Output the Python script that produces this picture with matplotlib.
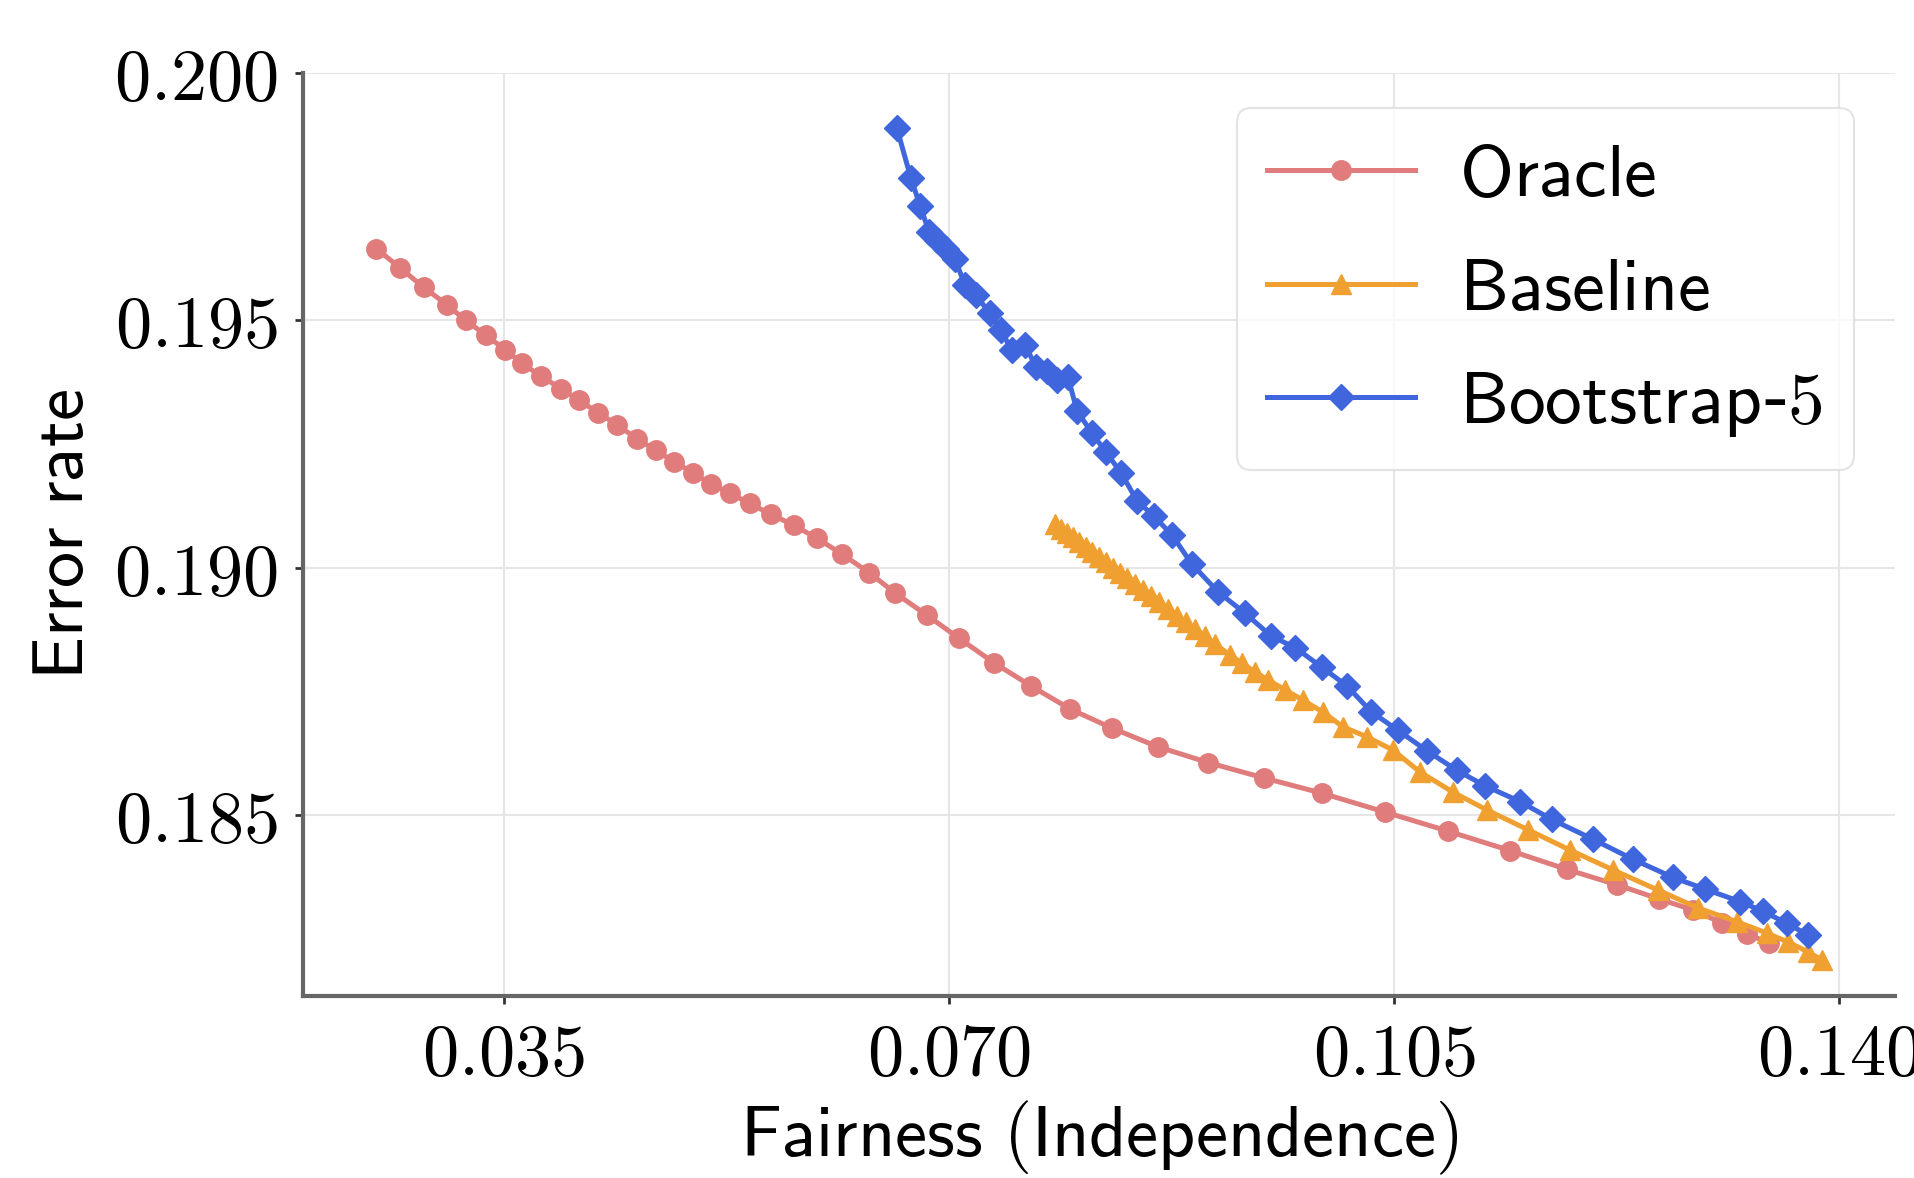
import numpy as np
import matplotlib
matplotlib.use("Agg")
import matplotlib.pyplot as plt
from matplotlib.ticker import FixedLocator, FuncFormatter

plt.rcParams['mathtext.fontset'] = 'cm'
plt.rcParams['font.family'] = ['DejaVu Sans']

# Oracle (red circles)
oracle_x = [0.02497, 0.02684, 0.02868, 0.03049, 0.03199, 0.03358, 0.03509, 0.03642,
            0.03792, 0.03948, 0.04093, 0.04243, 0.04393, 0.04544, 0.04695, 0.04839,
            0.04986, 0.05131, 0.05281, 0.05432, 0.05598, 0.05778, 0.05965, 0.06161,
            0.06371, 0.06576, 0.06825, 0.07081, 0.07352, 0.07644, 0.07954, 0.08279,
            0.08640, 0.09038, 0.09474, 0.09934, 0.10428, 0.10928, 0.11412, 0.11858,
            0.12251, 0.12587, 0.12849, 0.13077, 0.13279, 0.13452]
oracle_y = [0.19645, 0.19606, 0.19567, 0.19532, 0.19500, 0.19470, 0.19441, 0.19413,
            0.19387, 0.19362, 0.19338, 0.19313, 0.19288, 0.19261, 0.19237, 0.19214,
            0.19192, 0.19169, 0.19150, 0.19130, 0.19108, 0.19086, 0.19059, 0.19027,
            0.18990, 0.18949, 0.18904, 0.18857, 0.18808, 0.18761, 0.18714, 0.18676,
            0.18638, 0.18606, 0.18575, 0.18544, 0.18506, 0.18467, 0.18428, 0.18390,
            0.18359, 0.18330, 0.18308, 0.18282, 0.18259, 0.18241]

# Baseline (orange triangles)
baseline_x = [0.07834, 0.07881, 0.07928, 0.07975, 0.08022, 0.08077, 0.08125, 0.08180,
              0.08235, 0.08290, 0.08345, 0.08400, 0.08463, 0.08526, 0.08589, 0.08652,
              0.08722, 0.08793, 0.08864, 0.08935, 0.09013, 0.09092, 0.09210, 0.09304,
              0.09407, 0.09509, 0.09643, 0.09784, 0.09941, 0.10099, 0.10287, 0.10492,
              0.10704, 0.10964, 0.11231, 0.11554, 0.11884, 0.12222, 0.12576, 0.12891,
              0.13198, 0.13433, 0.13599, 0.13756, 0.13866]
baseline_y = [0.19088, 0.19079, 0.19070, 0.19061, 0.19052, 0.19041, 0.19032, 0.19022,
              0.19011, 0.19000, 0.18990, 0.18979, 0.18967, 0.18955, 0.18943, 0.18931,
              0.18917, 0.18903, 0.18890, 0.18876, 0.18861, 0.18846, 0.18823, 0.18807,
              0.18789, 0.18773, 0.18753, 0.18732, 0.18708, 0.18678, 0.18658, 0.18631,
              0.18587, 0.18546, 0.18510, 0.18470, 0.18429, 0.18389, 0.18348, 0.18312,
              0.18284, 0.18261, 0.18243, 0.18223, 0.18207]

# Bootstrap-5 (blue diamonds)
boot_x = [0.06591, 0.06701, 0.06774, 0.06843, 0.06906, 0.06976, 0.07047, 0.07126,
          0.07212, 0.07322, 0.07409, 0.07493, 0.07598, 0.07684, 0.07771, 0.07849,
          0.07936, 0.08007, 0.08125, 0.08235, 0.08353, 0.08479, 0.08612, 0.08754,
          0.08911, 0.09116, 0.09328, 0.09532, 0.09725, 0.09930, 0.10130, 0.10319,
          0.10531, 0.10763, 0.10995, 0.11216, 0.11491, 0.11740, 0.12063, 0.12382,
          0.12692, 0.12946, 0.13221, 0.13404, 0.13588, 0.13758]
boot_y = [0.19888, 0.19787, 0.19731, 0.19679, 0.19662, 0.19644, 0.19624, 0.19571,
          0.19551, 0.19514, 0.19480, 0.19440, 0.19450, 0.19406, 0.19398, 0.19379,
          0.19385, 0.19317, 0.19272, 0.19233, 0.19192, 0.19135, 0.19104, 0.19066,
          0.19007, 0.18951, 0.18908, 0.18862, 0.18838, 0.18799, 0.18761, 0.18709,
          0.18671, 0.18629, 0.18590, 0.18559, 0.18527, 0.18491, 0.18451, 0.18410,
          0.18374, 0.18350, 0.18325, 0.18305, 0.18281, 0.18257]

xticks = [0.035, 0.070, 0.105, 0.140]
yticks = [0.185, 0.190, 0.195, 0.200]

fig = plt.figure(figsize=(19.14, 11.78), dpi=100)
ax = fig.add_axes([0.1583, 0.1545, 0.8318, 0.7835])

ax.plot(oracle_x, oracle_y, color='#E07C7C', marker='o', markersize=14, lw=3.6,
        label=r'$\mathsf{Oracle}$')
ax.plot(baseline_x, baseline_y, color='#F0A030', marker='^', markersize=15, lw=3.6,
        label=r'$\mathsf{Baseline}$')
ax.plot(boot_x, boot_y, color='#3F66DD', marker='D', markersize=13, lw=3.6,
        label=r'$\mathsf{Bootstrap}$-$5$')

ax.set_xlim(0.0192, 0.1444)
ax.set_ylim(0.18134, 0.2000)
ax.xaxis.set_major_locator(FixedLocator(xticks))
ax.yaxis.set_major_locator(FixedLocator(yticks))
fmt = FuncFormatter(lambda v, p: r'$%.3f$' % v)
ax.xaxis.set_major_formatter(fmt)
ax.yaxis.set_major_formatter(fmt)
ax.tick_params(labelsize=52, length=6, width=2, color='#333333', pad=12)

ax.grid(True, color='#E6E6E6', lw=1.5)
ax.set_axisbelow(True)
for s in ['top', 'right']:
    ax.spines[s].set_visible(False)
for s in ['left', 'bottom']:
    ax.spines[s].set_color('#666666')
    ax.spines[s].set_linewidth(3)

ax.set_xlabel(r'$\mathsf{Fairness\ (Independence)}$', fontsize=52, labelpad=6)
ax.set_ylabel(r'$\mathsf{Error\ rate}$', fontsize=52, labelpad=12)

leg = ax.legend(loc='upper right', bbox_to_anchor=(0.974, 0.962), borderaxespad=0,
                fontsize=53, frameon=True, fancybox=True, handlelength=2.0,
                borderpad=0.42, labelspacing=0.55, handletextpad=0.6)
leg.get_frame().set_edgecolor('#DDDDDD')
leg.get_frame().set_linewidth(1.5)

fig.savefig('out.png', dpi=100)
